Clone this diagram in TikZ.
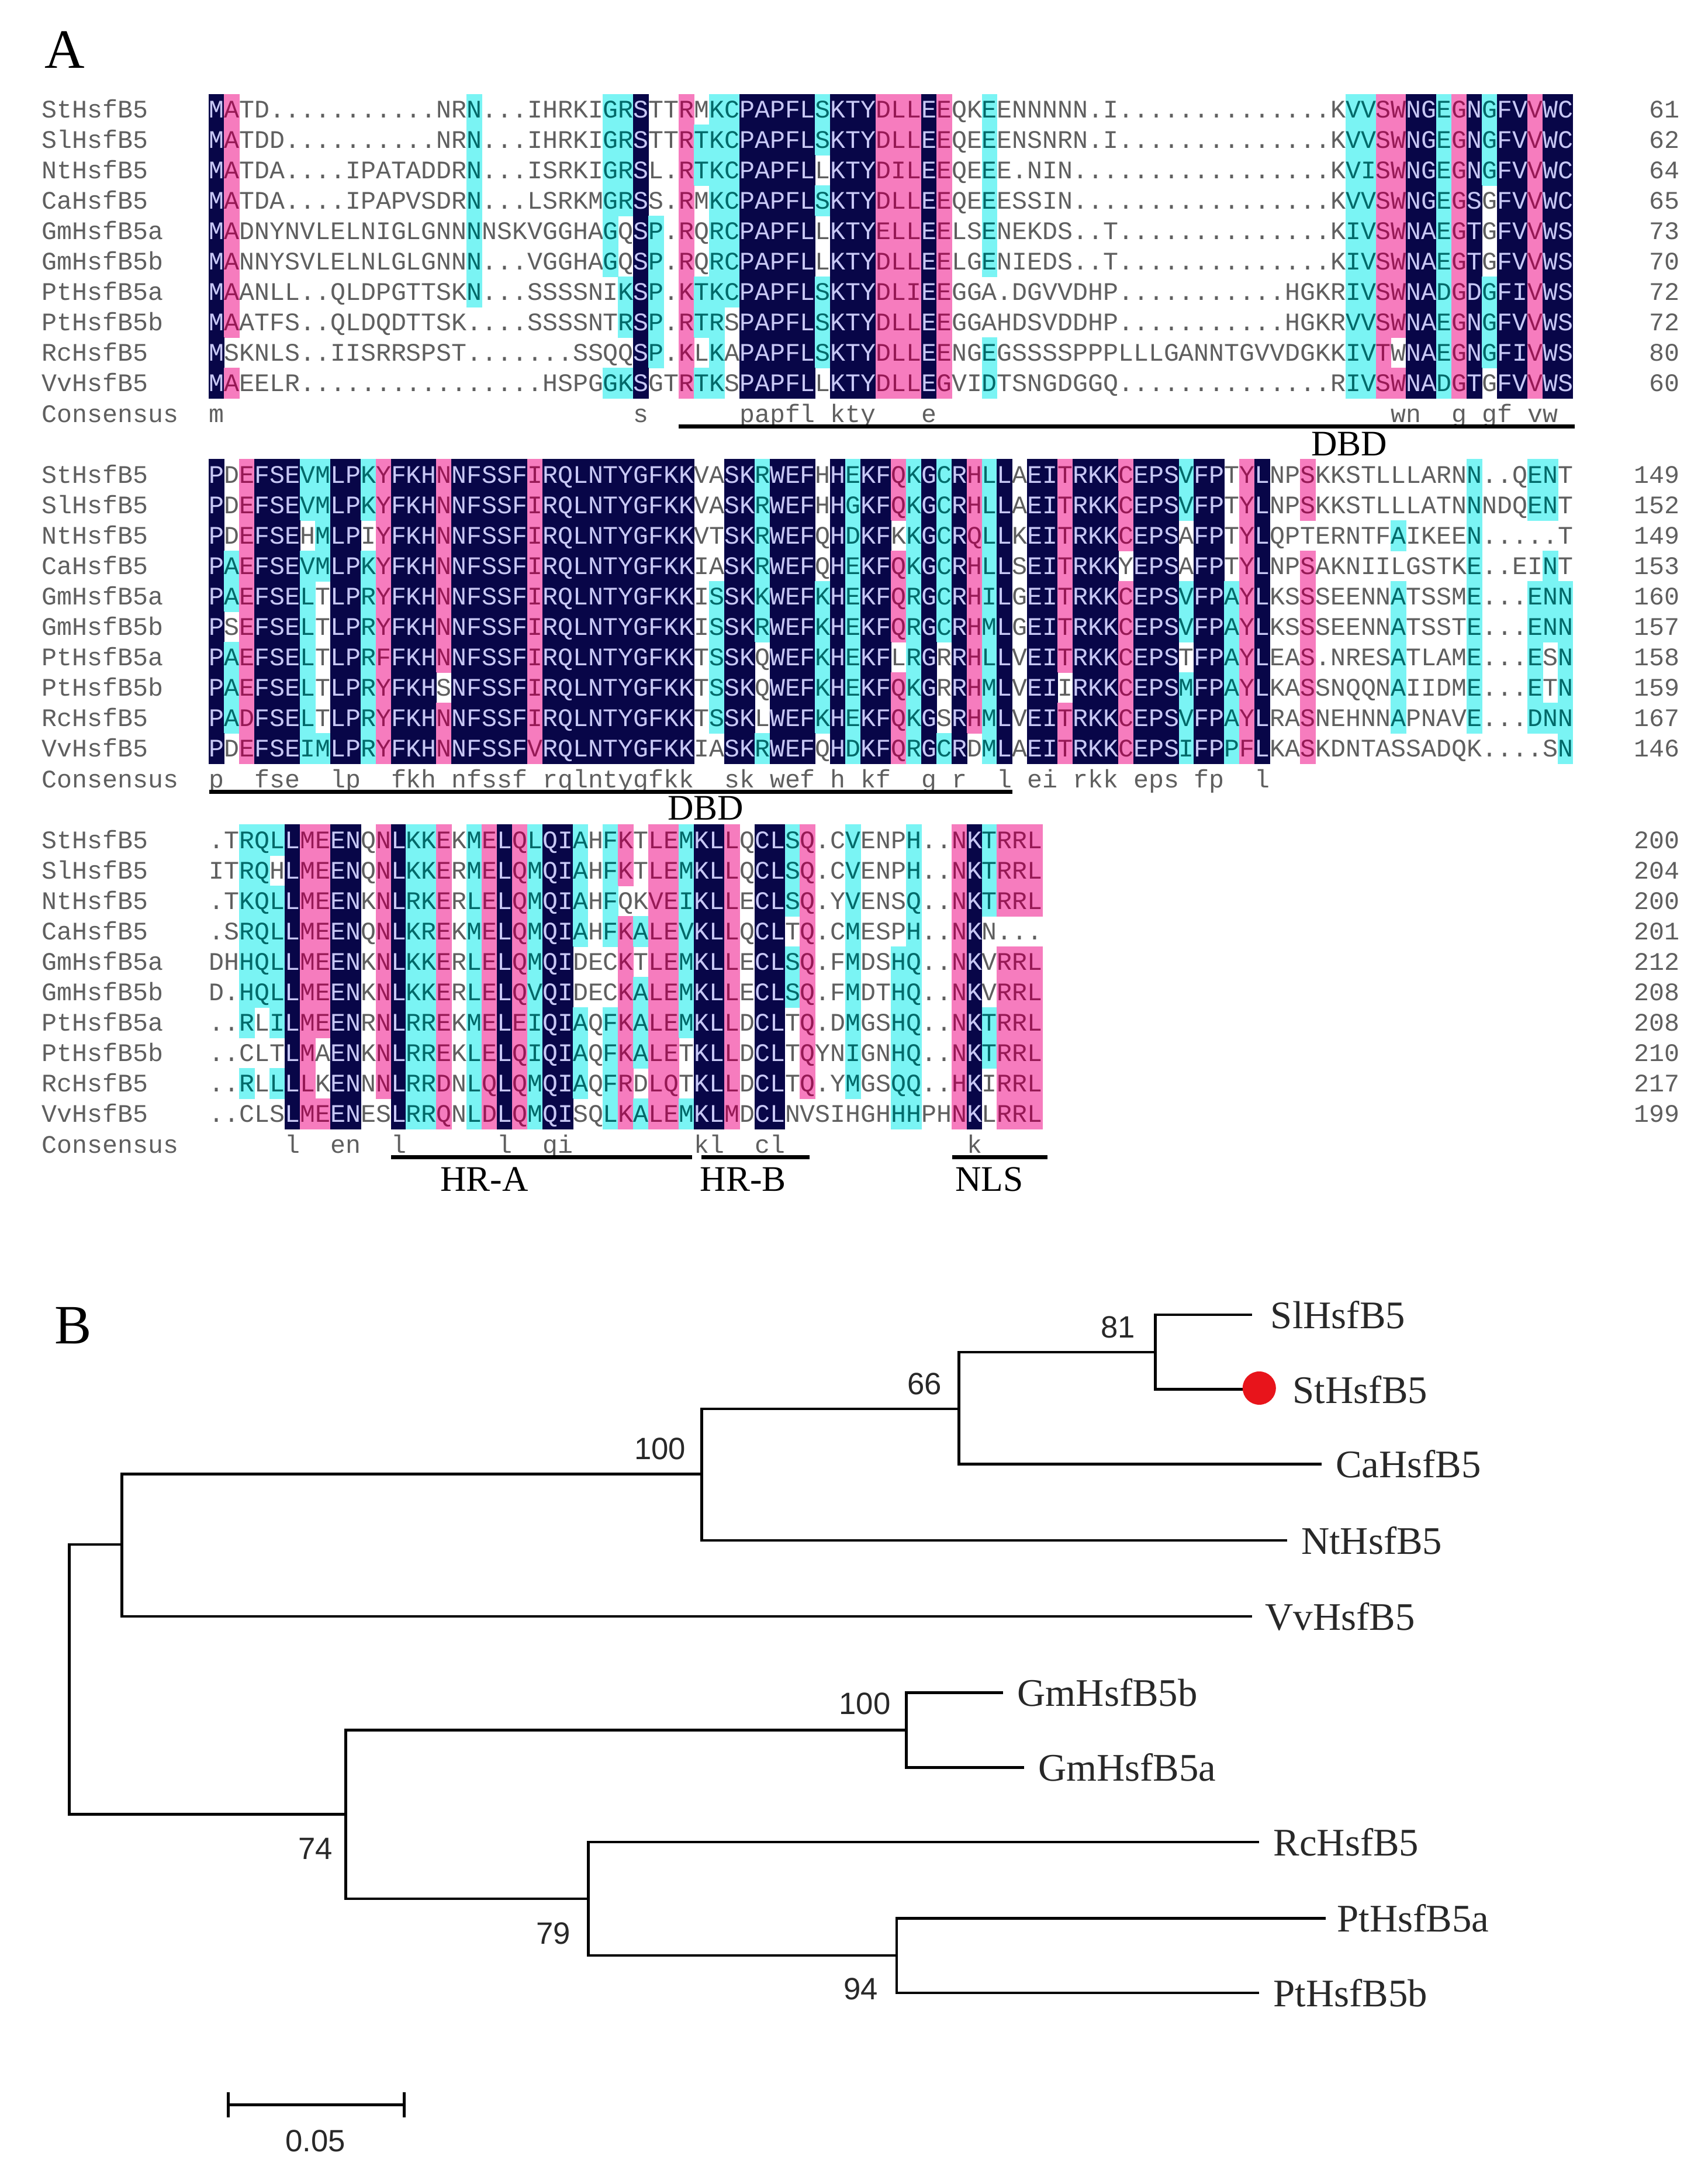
\documentclass[tikz,border=0pt]{standalone}
\usepackage{fontspec}
\setmainfont{Liberation Serif}
\newfontfamily\seqfont{Liberation Mono}
\newfontfamily\bootfont{Liberation Sans}
\usetikzlibrary{positioning}

\definecolor{idnavy}{RGB}{8,6,72}
\definecolor{idpink}{RGB}{246,124,190}
\definecolor{idcyan}{RGB}{122,244,244}
\definecolor{txnavy}{RGB}{200,200,245}
\definecolor{txpink}{RGB}{150,25,85}
\definecolor{txcyan}{RGB}{0,105,105}
\definecolor{txgray}{RGB}{95,95,95}
\definecolor{leafgray}{RGB}{40,40,40}
\definecolor{dotred}{RGB}{232,20,27}

\tikzset{
  celln/.style={fill=idnavy},
  cellp/.style={fill=idpink},
  cellc/.style={fill=idcyan},
  cellw/.style={},
  res/.style={font=\seqfont\fontsize{12.3}{12.3}\selectfont, inner sep=0pt, anchor=base},
  resn/.style={text=txnavy},
  resp/.style={text=txpink},
  resc/.style={text=txcyan},
  resw/.style={text=txgray},
  seqlab/.style={res, text=txgray},
}

% one row of the alignment: y, residues, shading codes (n p c w)
\newcount\rescol
\def\cw{10.95}
\def\xzero{151.2}
\newcommand\alnrow[3]{\global\rescol=0 \def\rowy{#1}\alnstep#2\relax#3\relax}
\def\alnstep#1#2\relax#3#4\relax{%
  \path[cell#3] (\xzero+\the\rescol*\cw-0.2,\rowy-11.2) rectangle ++(\cw+0.4,22.4);%
  \node[res,res#3] at (\xzero+\the\rescol*\cw+0.5*\cw,\rowy+6) {#1};%
  \global\advance\rescol by 1\relax
  \ifx\relax#2\relax\else\alnstep#2\relax#4\relax\fi}
% consensus line, '-' is a blank
\newcommand\consrow[2]{\global\rescol=0 \def\rowy{#1}\consstep#2\relax}
\def\consstep#1#2\relax{%
  \if#1-\else\node[res,resw] at (\xzero+\the\rescol*\cw+0.5*\cw,\rowy+6) {#1};\fi
  \global\advance\rescol by 1\relax
  \ifx\relax#2\relax\else\consstep#2\relax\fi}

\begin{document}
\begin{tikzpicture}[x=0.02367cm, y=-0.02367cm,
  leaf/.style={anchor=west, inner sep=0pt, text=leafgray, font=\fontsize{19}{19}\selectfont},
  boot/.style={inner sep=0pt, text=leafgray, font=\bootfont\fontsize{15}{15}\selectfont},
  dom/.style={inner sep=0pt, font=\fontsize{17.5}{17.5}\selectfont},
  panel/.style={inner sep=0pt, font=\fontsize{27}{27}\selectfont},
  bar/.style={line width=2pt},
  branch/.style={line width=1.35pt}]
\useasboundingbox (0,0) rectangle (1234,1568);
\fill[white] (0,0) rectangle (1234,1568);

\node[panel] (pA) at (47,36) {A};
\node[panel] (pB) at (53,958) {B};

% row names and end numbers
\foreach \nm [count=\i from 0] in {StHsfB5,SlHsfB5,NtHsfB5,CaHsfB5,GmHsfB5a,GmHsfB5b,PtHsfB5a,PtHsfB5b,RcHsfB5,VvHsfB5}
  \foreach \by in {79,343,607}
    \node[seqlab, anchor=base west] (nm\by-\i) at (30,\by+22*\i+6) {\nm};
\foreach \by in {299,563,827}
  \node[seqlab, anchor=base west] (cons\by) at (30,\by+6) {Consensus};
\foreach \v [count=\i from 0] in {61,62,64,65,73,70,72,72,80,60}
  \node[seqlab, anchor=base east] (endA\i) at (1214,79+22*\i+6) {\v};
\foreach \v [count=\i from 0] in {149,152,149,153,160,157,158,159,167,146}
  \node[seqlab, anchor=base east] (endB\i) at (1214,343+22*\i+6) {\v};
\foreach \v [count=\i from 0] in {200,204,200,201,212,208,208,210,217,199}
  \node[seqlab, anchor=base east] (endC\i) at (1214,607+22*\i+6) {\v};

% block 1
\alnrow{79}{MATD...........NRN...IHRKIGRSTTRMKCPAPFLSKTYDLLEEQKEENNNNN.I..............KVVSWNGEGNGFVVWC}{npwwwwwwwwwwwwwwwcwwwwwwwwccnwwpwccnnnnncnnnpppnpwwcwwwwwwwwwwwwwwwwwwwwwwwccppnncpncnnpnnw}
\alnrow{101}{MATDD..........NRN...IHRKIGRSTTRTKCPAPFLSKTYDLLEEQEEENSNRN.I..............KVVSWNGEGNGFVVWC}{npwwwwwwwwwwwwwwwcwwwwwwwwccnwwpcccnnnnncnnnpppnpwwcwwwwwwwwwwwwwwwwwwwwwwwccppnncpncnnpnnw}
\alnrow{123}{MATDA....IPATADDRN...ISRKIGRSL.RTKCPAPFLLKTYDILEEQEEE.NIN.................KVISWNGEGNGFVVWC}{npwwwwwwwwwwwwwwwcwwwwwwwwccnwwpcccnnnnnwnnnpppnpwwcwwwwwwwwwwwwwwwwwwwwwwwccppnncpncnnpnnw}
\alnrow{145}{MATDA....IPAPVSDRN...LSRKMGRSS.RMKCPAPFLSKTYDLLEEQEEESSIN.................KVVSWNGEGSGFVVWC}{npwwwwwwwwwwwwwwwcwwwwwwwwccnwwpwccnnnnncnnnpppnpwwcwwwwwwwwwwwwwwwwwwwwwwwccppnncpnwnnpnnw}
\alnrow{167}{MADNYNVLELNIGLGNNNNSKVGGHAGQSP.RQRCPAPFLLKTYELLEELSENEKDS..T..............KIVSWNAEGTGFVVWS}{npwwwwwwwwwwwwwwwcwwwwwwwwcwncwpwccnnnnnwnnnpppnpwwcwwwwwwwwwwwwwwwwwwwwwwwccppnncpnwnnpnnc}
\alnrow{189}{MANNYSVLELNLGLGNNN...VGGHAGQSP.RQRCPAPFLLKTYDLLEELGENIEDS..T..............KIVSWNAEGTGFVVWS}{npwwwwwwwwwwwwwwwcwwwwwwwwcwncwpwccnnnnnwnnnpppnpwwcwwwwwwwwwwwwwwwwwwwwwwwccppnncpnwnnpnnc}
\alnrow{211}{MAANLL..QLDPGTTSKN...SSSSNIKSP.KTKCPAPFLSKTYDLIEEGGA.DGVVDHP...........HGKRIVSWNADGDGFIVWS}{npwwwwwwwwwwwwwwwcwwwwwwwwwcncwpcccnnnnncnnnpppnpwwwwwwwwwwwwwwwwwwwwwwwwwwccppnncpncnnpnnc}
\alnrow{233}{MAATFS..QLDQDTTSK....SSSSNTRSP.RTRSPAPFLSKTYDLLEEGGAHDSVDDHP...........HGKRVVSWNAEGNGFVVWS}{npwwwwwwwwwwwwwwwwwwwwwwwwwcncwpccwnnnnncnnnpppnpwwwwwwwwwwwwwwwwwwwwwwwwwwccppnncpncnnpnnc}
\alnrow{255}{MSKNLS..IISRRSPST.......SSQQSP.KLKAPAPFLSKTYDLLEENGEGSSSSPPPLLLGANNTGVVDGKKIVTWNAEGNGFIVWS}{nwwwwwwwwwwwwwwwwwwwwwwwwwwwncwpwcwnnnnncnnnpppnpwwcwwwwwwwwwwwwwwwwwwwwwwwccpwnncpncnnpnnc}
\alnrow{277}{MAEELR................HSPGGKSGTRTKSPAPFLLKTYDLLEGVIDTSNGDGGQ..............RIVSWNADGTGFVVWS}{npwwwwwwwwwwwwwwwwwwwwwwwwccnwwpccwnnnnnwnnnpppnpwwcwwwwwwwwwwwwwwwwwwwwwwwccppnncpnwnnpnnc}
\consrow{299}{m---------------------------s------papfl-kty---e------------------------------wn--g-gf-vw-}
\draw[bar] (490.6,308) -- (1138,308);
\node[dom] (dbdA) at (975,321) {DBD};

% block 2
\alnrow{343}{PDEFSEVMLPKYFKHNNFSSFIRQLNTYGFKKVASKRWEFHHEKFQKGCRHLLAEITRKKCEPSVFPTYLNPSKKSTLLLARNN..QENT}{nwpnnnccnncpnnnpnnnnnpnnnnnnnnnnwwnncnnnwncnnpcncnpcnwnnpnnnpnnncnnwpnwwpwwwwwwwwwwcwwwccw}
\alnrow{365}{PDEFSEVMLPKYFKHNNFSSFIRQLNTYGFKKVASKRWEFHHGKFQKGCRHLLAEITRKKCEPSVFPTYLNPSKKSTLLLATNNNDQENT}{nwpnnnccnncpnnnpnnnnnpnnnnnnnnnnwwnncnnnwncnnpcncnpcnwnnpnnnpnnncnnwpnwwpwwwwwwwwwwcwwwccw}
\alnrow{387}{PDEFSEHMLPIYFKHNNFSSFIRQLNTYGFKKVTSKRWEFQHDKFKKGCRQLLKEITRKKCEPSAFPTYLQPTERNTFAIKEEN.....T}{nwpnnnwcnnwpnnnpnnnnnpnnnnnnnnnnwwnncnnnwncnnwcncnpcnwnnpnnnpnnnwnnwpnwwwwwwwwcwwwwcwwwwww}
\alnrow{409}{PAEFSEVMLPKYFKHNNFSSFIRQLNTYGFKKIASKRWEFQHEKFQKGCRHLLSEITRKKYEPSAFPTYLNPSAKNIILGSTKE..EINT}{ncpnnnccnncpnnnpnnnnnpnnnnnnnnnnwwnncnnnwncnnpcncnpcnwnnpnnnwnnnwnnwpnwwpwwwwwwwwwwcwwwwcw}
\alnrow{431}{PAEFSELTLPRYFKHNNFSSFIRQLNTYGFKKISSKKWEFKHEKFQRGCRHILGEITRKKCEPSVFPAYLKSSSEENNATSSME...ENN}{ncpnnncwnncpnnnpnnnnnpnnnnnnnnnnwcnncnnncncnnpcncnpcnwnnpnnnpnnncnncpnwwpwwwwwcwwwwcwwwccc}
\alnrow{453}{PSEFSELTLPRYFKHNNFSSFIRQLNTYGFKKISSKRWEFKHEKFQRGCRHMLGEITRKKCEPSVFPAYLKSSSEENNATSSTE...ENN}{nwpnnncwnncpnnnpnnnnnpnnnnnnnnnnwcnncnnncncnnpcncnpcnwnnpnnnpnnncnncpnwwpwwwwwcwwwwcwwwccc}
\alnrow{475}{PAEFSELTLPRFFKHNNFSSFIRQLNTYGFKKTSSKQWEFKHEKFLRGRRHLLVEITRKKCEPSTFPAYLEAS.NRESATLAME...ESN}{ncpnnncwnncpnnnpnnnnnpnnnnnnnnnnwcnnwnnncncnnwcnwnpcnwnnpnnnpnnnwnncpnwwpwwwwwcwwwwcwwwcwc}
\alnrow{497}{PAEFSELTLPRYFKHSNFSSFIRQLNTYGFKKTSSKQWEFKHEKFQKGRRHMLVEIIRKKCEPSMFPAYLKASSNQQNAIIDME...ETN}{ncpnnncwnncpnnnwnnnnnpnnnnnnnnnnwcnnwnnncncnnpcnwnpcnwnnwnnnpnnncnncpnwwpwwwwwcwwwwcwwwcwc}
\alnrow{519}{PADFSELTLPRYFKHNNFSSFIRQLNTYGFKKTSSKLWEFKHEKFQKGSRHMLVEITRKKCEPSVFPAYLRASNEHNNAPNAVE...DNN}{ncpnnncwnncpnnnpnnnnnpnnnnnnnnnnwcnnwnnncncnnpcnwnpcnwnnpnnnpnnncnncpnwwpwwwwwcwwwwcwwwccc}
\alnrow{541}{PDEFSEIMLPRYFKHNNFSSFVRQLNTYGFKKIASKRWEFQHDKFQRGCRDMLAEITRKKCEPSIFPPFLKASKDNTASSADQK....SN}{nwpnnnccnncpnnnpnnnnnpnnnnnnnnnnwwnncnnnwncnnpcncnwcnwnnpnnnpnnncnncpnwwpwwwwwwwwwwwwwwwwc}
\consrow{563}{p--fse--lp--fkh-nfssf-rqlntygfkk--sk-wef-h-kf--g-r--l-ei-rkk-eps-fp--l}
\draw[bar] (151.2,572) -- (731.6,572);
\node[dom] (dbdB) at (510,584) {DBD};

% block 3
\alnrow{607}{.TRQLLMEENQNLKKEKMELQLQIAHFKTLEMKLLQCLSQ.CVENPH..NKTRRL}{wwcccnppnnwpnccpwcpnpcnncwcpwppcnnpwnncpwwcwwwcwwpncppp}
\alnrow{629}{ITRQHLMEENQNLKKERMELQMQIAHFKTLEMKLLQCLSQ.CVENPH..NKTRRL}{wwccwnppnnwpnccpwcpnpcnncwcpwppcnnpwnncpwwcwwwcwwpncppp}
\alnrow{651}{.TKQLLMEENKNLRKERLELQMQIAHFQKVEIKLLECLSQ.YVENSQ..NKTRRL}{wwcccnppnnwpnccpwcpnpcnncwcwwppcnnpwnncpwwcwwwcwwpncppp}
\alnrow{673}{.SRQLLMEENQNLKREKMELQMQIAHFKALEVKLLQCLTQ.CMESPH..NKN...}{wwcccnppnnwpnccpwcpnpcnncwcpcppcnnpwnnwpwwcwwwcwwpnwwww}
\alnrow{695}{DHHQLLMEENKNLKKERLELQMQIDECKTLEMKLLECLSQ.FMDSHQ..NKVRRL}{wwcccnppnnwpnccpwcpnpcnnwwwpwppcnnpwnncpwwcwwccwwpnwppp}
\alnrow{717}{D.HQLLMEENKNLKKERLELQVQIDECKALEMKLLECLSQ.FMDTHQ..NKVRRL}{wwcccnppnnwpnccpwcpnpcnnwwwpcppcnnpwnncpwwcwwccwwpnwppp}
\alnrow{739}{..RLILMEENRNLRREKMELEIQIAQFKALEMKLLDCLTQ.DMGSHQ..NKTRRL}{wwcwcnppnnwpnccpwcpnpcnncwcpcppcnnpwnnwpwwcwwccwwpncppp}
\alnrow{761}{..CLTLMAENKNLRREKLELQIQIAQFKALETKLLDCLTQYNIGNHQ..NKTRRL}{wwwwwnpwnnwpnccpwcpnpcnncwcpcppwnnpwnnwpwwcwwccwwpncppp}
\alnrow{783}{..RLLLLKENNNLRRDNLQLQMQIAQFRDLQTKLLDCLTQ.YMGSQQ..HKIRRL}{wwcwcnpwnnwpnccpwcpnpcnncwcpwppwnnpwnnwpwwcwwccwwpnwppp}
\alnrow{805}{..CLSLMEENESLRRQNLDLQMQISQLKALEMKLMDCLNVSIHGHHHPHNKLRRL}{wwwwwnppnnwwnccpwcpnpcnnwwcpcppcnnpwnnwwwwwwwccwwpnwppp}
\consrow{827}{-----l--en--l------l--qi--------kl--cl------------k}
\draw[bar] (282.6,836) -- (500,836);
\draw[bar] (507,836) -- (585,836);
\draw[bar] (688,836) -- (757,836);
\node[dom] (hra) at (350,852) {HR-A};
\node[dom] (hrb) at (537,852) {HR-B};
\node[dom] (nls) at (715,852) {NLS};

% tree
\coordinate (root) at (50,1213);
\coordinate (nTop) at (88,1116);
\coordinate (nA) at (507,1065);
\coordinate (nB) at (693,1018);
\coordinate (nC) at (835,977);
\coordinate (nBot) at (250,1311);
\coordinate (nGm) at (655,1250);
\coordinate (nRP) at (425,1372);
\coordinate (nPt) at (648,1413);
\coordinate (tSl) at (905,950);
\coordinate (tSt) at (900,1004);
\coordinate (tCa) at (955,1058);
\coordinate (tNt) at (930,1113);
\coordinate (tVv) at (905,1168);
\coordinate (tGmb) at (725,1223);
\coordinate (tGma) at (740,1277);
\coordinate (tRc) at (910,1331);
\coordinate (tPta) at (958,1386);
\coordinate (tPtb) at (910,1440);

\draw[branch] (root) |- (nTop);
\draw[branch] (root) |- (nBot);
\draw[branch] (nTop) |- (nA);
\draw[branch] (nTop) |- (tVv);
\draw[branch] (nA) |- (nB);
\draw[branch] (nA) |- (tNt);
\draw[branch] (nB) |- (nC);
\draw[branch] (nB) |- (tCa);
\draw[branch] (nC) |- (tSl);
\draw[branch] (nC) |- (tSt);
\draw[branch] (nBot) |- (nGm);
\draw[branch] (nBot) |- (nRP);
\draw[branch] (nGm) |- (tGmb);
\draw[branch] (nGm) |- (tGma);
\draw[branch] (nRP) |- (tRc);
\draw[branch] (nRP) |- (nPt);
\draw[branch] (nPt) |- (tPta);
\draw[branch] (nPt) |- (tPtb);

\node[circle, fill=dotred, inner sep=0pt, minimum size=16.2pt] (stDot) at (910,1003) {};
\node[leaf] (lSl) at (918,950) {SlHsfB5};
\node[leaf] (lSt) at (934,1004) {StHsfB5};
\node[leaf] (lCa) at (965,1058) {CaHsfB5};
\node[leaf] (lNt) at (940,1113) {NtHsfB5};
\node[leaf] (lVv) at (914,1168) {VvHsfB5};
\node[leaf] (lGmb) at (735,1223) {GmHsfB5b};
\node[leaf] (lGma) at (750,1277) {GmHsfB5a};
\node[leaf] (lRc) at (920,1331) {RcHsfB5};
\node[leaf] (lPta) at (966,1386) {PtHsfB5a};
\node[leaf] (lPtb) at (920,1440) {PtHsfB5b};

\node[boot] (b81) at (808,959) {81};
\node[boot] (b66) at (668,1000) {66};
\node[boot] (b100a) at (477,1047) {100};
\node[boot] (b100b) at (625,1231) {100};
\node[boot] (b74) at (228,1336) {74};
\node[boot] (b79) at (400,1397) {79};
\node[boot] (b94) at (622,1437) {94};

% scale bar
\coordinate (sbL) at (165,1521);
\coordinate (sbR) at (292,1521);
\draw[branch] (sbL) -- (sbR);
\draw[branch] (sbL) ++(0,-9) -- ++(0,18);
\draw[branch] (sbR) ++(0,-9) -- ++(0,18);
\node[boot] (sbLab) at (228,1547) {0.05};
\end{tikzpicture}
\end{document}
